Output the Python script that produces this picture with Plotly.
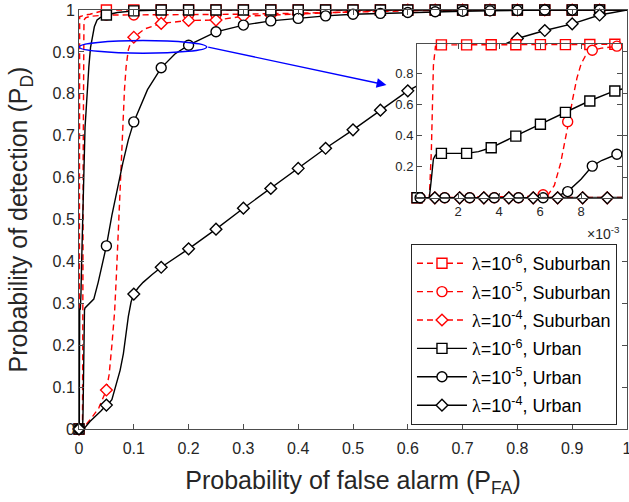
import plotly.graph_objects as go

# ---------------- data ----------------
# main-plot marker abscissae
MARK_X = [0, 0.05, 0.1, 0.15, 0.2, 0.25, 0.3, 0.35, 0.4, 0.45,
          0.5, 0.55, 0.6, 0.65, 0.7, 0.75, 0.8, 0.85, 0.9, 0.95]

# lambda = 1e-6, Suburban
SUB6_X = [0, 0.0006, 0.0007, 0.0008, 0.0009, 0.0012, 0.0036, 0.006, 0.0084, 0.0096,
          0.01, 0.02, 0.03, 0.04, 0.05, 1.0]
SUB6_Y = [0, 0, 0.3, 0.85, 0.975, 0.984, 0.985, 0.986, 0.987, 0.988,
          0.988, 0.99, 0.994, 0.997, 1.0, 1.0]
SUB6_MY = [0, 1, 1, 1, 1, 1, 1, 1, 1, 1, 1, 1, 1, 1, 1, 1, 1, 1, 1, 1]

# lambda = 1e-5, Suburban
SUB5_X = [0, 0.006, 0.0064, 0.0067, 0.007, 0.0072, 0.0074, 0.0076, 0.0078, 0.008,
          0.0082, 0.0086, 0.009, 0.0098, 0.01, 0.012, 0.02, 0.05, 0.1, 0.2,
          0.3, 0.4, 0.5, 0.6, 0.7, 1.0]
SUB5_Y = [0, 0.01, 0.02, 0.08, 0.22, 0.35, 0.49, 0.64, 0.77, 0.86,
          0.91, 0.95, 0.963, 0.976, 0.978, 0.981, 0.985, 0.988, 0.988, 0.989,
          0.99, 0.992, 0.995, 0.998, 1.0, 1.0]
SUB5_MY = [0, 0.988, 0.988, 0.988, 0.989, 0.989, 0.99, 0.991, 0.992, 0.993,
           0.995, 0.996, 0.998, 0.999, 1, 1, 1, 1, 1, 1]

# lambda = 1e-4, Suburban
SUB4_X = [0, 0.0095, 0.01, 0.015, 0.025, 0.036, 0.05, 0.055, 0.06, 0.065,
          0.068, 0.071, 0.074, 0.077, 0.08, 0.083, 0.086, 0.09, 0.095, 0.1,
          0.12, 0.15, 0.2, 0.25, 0.3, 0.35, 0.4, 0.45, 0.5, 0.55, 0.6, 1.0]
SUB4_Y = [0, 0.001, 0.003, 0.014, 0.03, 0.05, 0.093, 0.13, 0.2, 0.28,
          0.36, 0.45, 0.55, 0.65, 0.74, 0.81, 0.865, 0.905, 0.925, 0.935,
          0.955, 0.968, 0.975, 0.976, 0.985, 0.988, 0.99, 0.993, 0.996, 0.998, 1.0, 1.0]
SUB4_MY = [0, 0.093, 0.935, 0.968, 0.975, 0.976, 0.985, 0.988, 0.99, 0.993,
           0.996, 0.998, 1, 1, 1, 1, 1, 1, 1, 1]

# lambda = 1e-6, Urban
URB6_X = [0, 0.0006, 0.0007, 0.0008, 0.0009, 0.0012, 0.0024, 0.003, 0.0036, 0.0048,
          0.006, 0.0072, 0.0084, 0.0096, 0.01, 0.011, 0.013, 0.015, 0.018, 0.021,
          0.024, 0.028, 0.033, 0.04, 0.05, 0.07, 0.1, 0.15, 1.0]
URB6_Y = [0, 0, 0.12, 0.25, 0.275, 0.286, 0.286, 0.297, 0.322, 0.397,
          0.473, 0.55, 0.623, 0.687, 0.70, 0.72, 0.76, 0.81, 0.865, 0.91,
          0.936, 0.96, 0.976, 0.983, 0.988, 0.994, 0.998, 1.0, 1.0]
URB6_MY = [0, 0.988, 0.998, 1, 1, 1, 1, 1, 1, 1, 1, 1, 1, 1, 1, 1, 1, 1, 1, 1]

# lambda = 1e-5, Urban
URB5_X = [0, 0.0066, 0.00735, 0.008, 0.00855, 0.009, 0.00975, 0.01, 0.011, 0.015,
          0.02, 0.027, 0.035, 0.04, 0.05, 0.06, 0.07, 0.08, 0.09, 0.1,
          0.125, 0.15, 0.175, 0.2, 0.25, 0.3, 0.35, 0.4, 0.45, 0.5,
          0.55, 0.6, 0.65, 0.7, 0.75, 0.8, 0.85, 1.0]
URB5_Y = [0, 0, 0.04, 0.12, 0.204, 0.24, 0.28, 0.284, 0.289, 0.294,
          0.3, 0.31, 0.35, 0.38, 0.437, 0.51, 0.575, 0.635, 0.69, 0.733,
          0.81, 0.862, 0.895, 0.916, 0.948, 0.964, 0.974, 0.98, 0.986, 0.99,
          0.992, 0.994, 0.996, 0.997, 0.998, 0.999, 1.0, 1.0]
URB5_MY = [0, 0.437, 0.733, 0.862, 0.916, 0.948, 0.964, 0.974, 0.98, 0.986,
           0.99, 0.992, 0.994, 0.996, 0.997, 0.998, 0.999, 1, 1, 1]

# lambda = 1e-4, Urban
URB4_X = [0, 0.0095, 0.01, 0.02, 0.03, 0.04, 0.05, 0.055, 0.06, 0.066,
          0.07, 0.075, 0.081, 0.086, 0.09, 0.095, 0.1, 0.108, 0.117, 0.133,
          0.15, 0.2, 0.25, 0.3, 0.35, 0.4, 0.45, 0.5, 0.55, 0.6,
          0.65, 0.7, 0.75, 0.8, 0.85, 0.9, 0.95, 1.0]
URB4_Y = [0, 0.001, 0.002, 0.018, 0.03, 0.043, 0.057, 0.062, 0.07, 0.097,
          0.115, 0.14, 0.18, 0.23, 0.268, 0.303, 0.322, 0.337, 0.35, 0.368,
          0.386, 0.43, 0.477, 0.527, 0.574, 0.622, 0.67, 0.714, 0.761, 0.807,
          0.842, 0.872, 0.903, 0.932, 0.951, 0.967, 0.988, 1.0]
URB4_MY = [0, 0.057, 0.322, 0.386, 0.43, 0.477, 0.527, 0.574, 0.622, 0.67,
           0.714, 0.761, 0.807, 0.842, 0.872, 0.903, 0.932, 0.951, 0.967, 0.988]

# inset (zoom on 0 <= P_FA <= 0.01) marker positions
INSET_SQ_X = [0, 0.00119, 0.00242, 0.00362, 0.00482, 0.00602, 0.00724, 0.00843, 0.00965]
INSET_CI_X = [0.00015, 0.00135, 0.00257, 0.00377, 0.00495, 0.00615, 0.00735, 0.00855, 0.00975]
INSET_DI_X = [0.00087, 0.00208, 0.00326, 0.00448, 0.00567, 0.00686, 0.00808, 0.00928]
SUB6_IY = [0, 0.984, 0.984, 0.985, 0.985, 0.986, 0.986, 0.987, 0.988]
SUB5_IY = [0, 0, 0, 0, 0, 0.02, 0.49, 0.95, 0.976]
SUB4_IY = [0, 0, 0, 0, 0, 0, 0, 0]
URB6_IY = [0, 0.286, 0.286, 0.322, 0.397, 0.473, 0.55, 0.623, 0.687]
URB5_IY = [0, 0, 0, 0, 0, 0, 0.04, 0.204, 0.28]
URB4_IY = [0, 0, 0, 0, 0, 0, 0, 0]

MAIN_TICKS = [0, 0.1, 0.2, 0.3, 0.4, 0.5, 0.6, 0.7, 0.8, 0.9, 1]
MAIN_TICK_TEXT = ["0", "0.1", "0.2", "0.3", "0.4", "0.5", "0.6", "0.7", "0.8", "0.9", "1"]
INSET_XTICKS = [0.002, 0.004, 0.006, 0.008]
INSET_XTICK_TEXT = ["2", "4", "6", "8"]
INSET_YTICKS = [0.2, 0.4, 0.6, 0.8]
INSET_YTICK_TEXT = ["0.2", "0.4", "0.6", "0.8"]

LAM = "<span style=\"font-family:'Liberation Serif'\">λ</span>"
NAMES = [LAM + "=10<sup>-6</sup>, Suburban", LAM + "=10<sup>-5</sup>, Suburban",
         LAM + "=10<sup>-4</sup>, Suburban", LAM + "=10<sup>-6</sup>, Urban",
         LAM + "=10<sup>-5</sup>, Urban", LAM + "=10<sup>-4</sup>, Urban"]

# ---------------- styling ----------------
RED = "rgb(255,0,0)"
BLACK = "rgb(0,0,0)"
AXC = "#4d4d4d"
TXT = "#262626"
FONT = "Arial, Liberation Sans, Helvetica, sans-serif"
DASH = "6px,4px"

series = [
    dict(x=SUB6_X, y=SUB6_Y, my=SUB6_MY, ix=INSET_SQ_X, iy=SUB6_IY, c=RED, d=DASH, s="square"),
    dict(x=SUB5_X, y=SUB5_Y, my=SUB5_MY, ix=INSET_CI_X, iy=SUB5_IY, c=RED, d=DASH, s="circle"),
    dict(x=SUB4_X, y=SUB4_Y, my=SUB4_MY, ix=INSET_DI_X, iy=SUB4_IY, c=RED, d=DASH, s="diamond"),
    dict(x=URB6_X, y=URB6_Y, my=URB6_MY, ix=INSET_SQ_X, iy=URB6_IY, c=BLACK, d="solid", s="square"),
    dict(x=URB5_X, y=URB5_Y, my=URB5_MY, ix=INSET_CI_X, iy=URB5_IY, c=BLACK, d="solid", s="circle"),
    dict(x=URB4_X, y=URB4_Y, my=URB4_MY, ix=INSET_DI_X, iy=URB4_IY, c=BLACK, d="solid", s="diamond"),
]
MSIZE = {"square": 10, "circle": 10, "diamond": 9}

fig = go.Figure()

# main plot
for i, s in enumerate(series):
    fig.add_trace(go.Scatter(x=s["x"], y=s["y"], mode="lines",
                             line=dict(color=s["c"], width=1.4, dash=s["d"]),
                             showlegend=False, cliponaxis=False, hoverinfo="skip",
                             legendgroup="g%d" % i))
    fig.add_trace(go.Scatter(x=MARK_X, y=s["my"], mode="markers",
                             marker=dict(symbol=s["s"], size=MSIZE[s["s"]], color="white",
                                         line=dict(color=s["c"], width=1.4)),
                             showlegend=False, cliponaxis=False, legendgroup="g%d" % i))

# inset
for i, s in enumerate(series):
    sub = [(a, b) for a, b in zip(s["x"], s["y"]) if a <= 0.01]
    fig.add_trace(go.Scatter(x=[p[0] for p in sub], y=[p[1] for p in sub], mode="lines",
                             line=dict(color=s["c"], width=1.4, dash=s["d"]),
                             xaxis="x2", yaxis="y2",
                             showlegend=False, cliponaxis=False, hoverinfo="skip",
                             legendgroup="g%d" % i))
    fig.add_trace(go.Scatter(x=s["ix"], y=s["iy"], mode="markers",
                             marker=dict(symbol=s["s"], size=MSIZE[s["s"]], color="white",
                                         line=dict(color=s["c"], width=1.4)),
                             xaxis="x2", yaxis="y2",
                             showlegend=False, cliponaxis=False, legendgroup="g%d" % i))

# legend entries
for i, s in enumerate(series):
    fig.add_trace(go.Scatter(x=[None], y=[None], mode="lines+markers", name=NAMES[i],
                             line=dict(color=s["c"], width=1.4, dash=s["d"]),
                             marker=dict(symbol=s["s"], size=MSIZE[s["s"]], color="white",
                                         line=dict(color=s["c"], width=1.4)),
                             legendgroup="g%d" % i))

axis_common = dict(showline=True, linecolor=AXC, linewidth=1, mirror="ticks",
                   ticks="inside", ticklen=5, tickcolor=AXC, tickwidth=1,
                   showgrid=False, zeroline=False, automargin=False,
                   ticklabeloverflow="allow")

fig.update_layout(
    template="none",
    width=629, height=502,
    margin=dict(l=79, r=2, t=10, b=73),
    paper_bgcolor="white", plot_bgcolor="white",
    font=dict(family=FONT, color=TXT),
    xaxis=dict(domain=[0, 1], range=[0, 1], tickvals=MAIN_TICKS, ticktext=MAIN_TICK_TEXT,
               tickfont=dict(size=16, color=TXT), ticklabelstandoff=5,
               title=dict(text="Probability of false alarm (P<sub>FA</sub>)",
                          font=dict(size=25, color=TXT), standoff=15),
               **axis_common),
    yaxis=dict(domain=[0, 1], range=[0, 1], tickvals=MAIN_TICKS, ticktext=MAIN_TICK_TEXT,
               tickfont=dict(size=16, color=TXT),
               title=dict(text="Probability of detection (P<sub>D</sub>)",
                          font=dict(size=25, color=TXT), standoff=17),
               **axis_common),
    xaxis2=dict(domain=[0.6168, 0.9909], anchor="y2", range=[0, 0.01],
                tickvals=INSET_XTICKS, ticktext=INSET_XTICK_TEXT, ticklabelstandoff=2,
                tickfont=dict(size=13, color=TXT), **axis_common),
    yaxis2=dict(domain=[0.5518, 0.9189], anchor="x2", range=[0, 0.99],
                tickvals=INSET_YTICKS, ticktext=INSET_YTICK_TEXT,
                tickfont=dict(size=13, color=TXT), **axis_common),
    legend=dict(x=0.6058, y=0.4415, xanchor="left", yanchor="top",
                bgcolor="white", bordercolor=TXT, borderwidth=1,
                font=dict(size=18, color="black", family=FONT),
                traceorder="grouped", tracegroupgap=2, itemwidth=50),
    shapes=[dict(type="circle", xref="x", yref="y", x0=0.0005, x1=0.233, y0=0.897, y1=0.927,
                 line=dict(color="blue", width=1.5))],
    annotations=[
        dict(x=0.561, y=0.821, xref="x", yref="y", ax=0.233, ay=0.912, axref="x", ayref="y",
             text="", showarrow=True, arrowhead=2, arrowsize=1.4, arrowwidth=1.4,
             arrowcolor="blue", standoff=0),
        dict(x=0.9909, y=0.468, xref="paper", yref="paper", xanchor="right", yanchor="middle",
             text="×10<sup>-3</sup>", showarrow=False, font=dict(size=14, color=TXT)),
    ],
)

fig.write_html("out.html", config={"displayModeBar": False},
               post_script="document.body.style.margin='0';document.body.style.overflow='hidden';")
